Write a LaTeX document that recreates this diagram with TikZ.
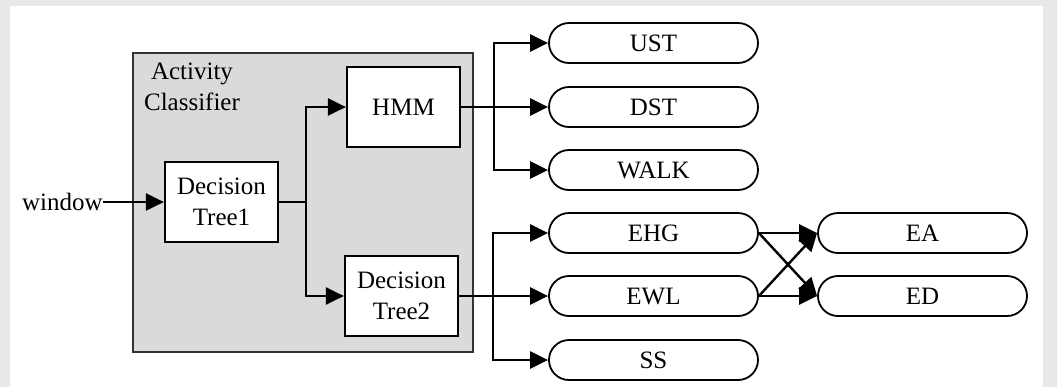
\documentclass[tikz,border=0pt]{standalone}
\usepackage{fontspec}
\setmainfont{Liberation Serif}
\usetikzlibrary{arrows.meta}
\definecolor{boxgray}{RGB}{218,218,218}
\definecolor{framegray}{RGB}{232,232,232}
\begin{document}
\begin{tikzpicture}[x=0.5pt,y=-0.5pt,
  txt/.style={font=\fontsize{12.5}{15.5}\selectfont},
  box/.style={txt,draw,line width=1.1pt,fill=white,minimum width=56.5pt,minimum height=40pt,inner sep=0pt,align=center},
  pill/.style={txt,draw,line width=0.9pt,rounded corners=10pt,minimum width=104.5pt,minimum height=20pt,inner sep=0pt},
  conn/.style={line width=1.2pt},
  arr/.style={conn,-{Triangle[length=9pt,width=8.5pt]}}]
\useasboundingbox (0,0) rectangle (1057,387);
\fill[framegray] (0,0) rectangle (1057,387);
\fill[white] (10,6) rectangle (1043,387);
% container
\node[draw=black!80,line width=1.1pt,fill=boxgray,minimum width=170pt,minimum height=149.5pt,inner sep=0pt] (ac) at (303,202.5) {};
\node[txt,align=center] (aclabel) at (192,87) {Activity\\Classifier};
% boxes
\node[box] (dt1) at (221.5,202) {Decision\\Tree1};
\node[box] (hmm) at (403.5,107) {HMM};
\node[box] (dt2) at (401.5,296) {Decision\\Tree2};
\node[txt,anchor=east,inner sep=0pt] (win) at (103,202) {window};
% pills
\node[pill] (ust) at (653.5,43) {UST};
\node[pill] (dst) at (653.5,107) {DST};
\node[pill] (walk) at (653.5,170) {WALK};
\node[pill] (ehg) at (653.5,233) {EHG};
\node[pill] (ewl) at (653.5,296) {EWL};
\node[pill] (ss) at (653.5,360) {SS};
\node[pill] (ea) at (922.5,233) {EA};
\node[pill] (ed) at (922.5,296) {ED};
% connectors
\coordinate (j) at (306,202);
\coordinate (b1) at (494,107);
\coordinate (b2) at (493,296);
\draw[arr] (win.east) -- (dt1.west);
\draw[conn] (dt1.east) -- (j);
\draw[arr] (j) |- (hmm.west);
\draw[arr] (j) |- (dt2.west);
\draw[arr] (hmm.east) -- (dst.west);
\draw[arr] (b1) |- (ust.west);
\draw[arr] (b1) |- (walk.west);
\draw[arr] (dt2.east) -- (ewl.west);
\draw[arr] (b2) |- (ehg.west);
\draw[arr] (b2) |- (ss.west);
\draw[arr] (ehg.east) -- (ea.west);
\draw[arr] (ehg.east) -- (ed.west);
\draw[arr] (ewl.east) -- (ed.west);
\draw[arr] (ewl.east) -- (ea.west);
\end{tikzpicture}
\end{document}
